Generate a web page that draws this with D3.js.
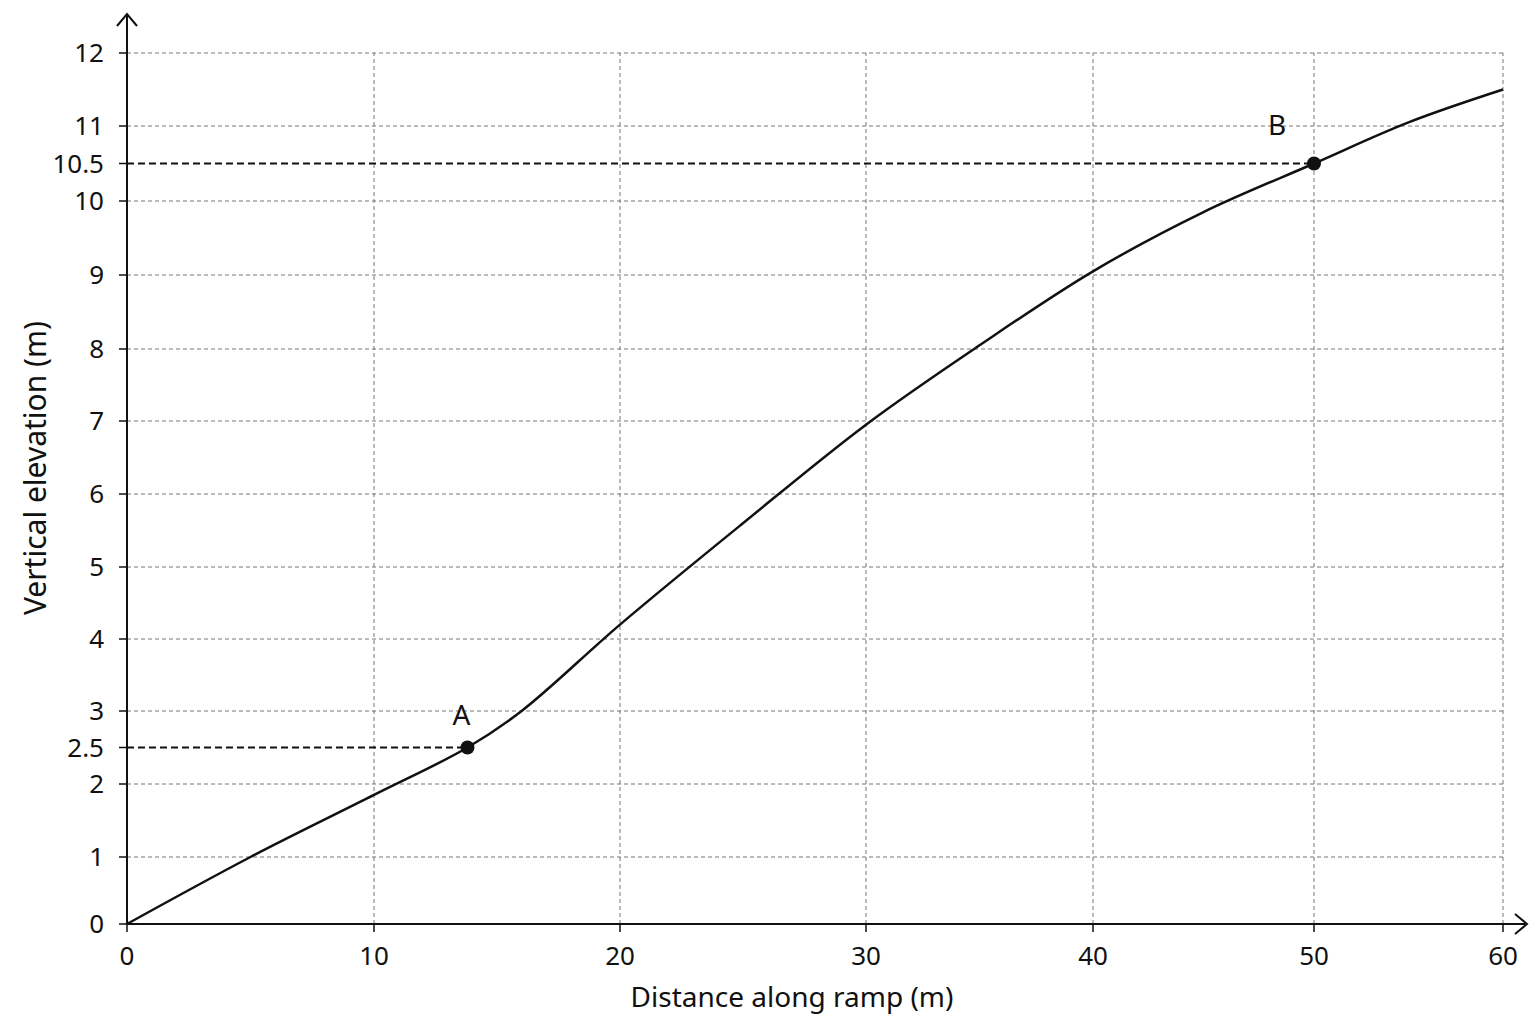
<!DOCTYPE html>
<html><head><meta charset="utf-8">
<script src="https://cdn.jsdelivr.net/npm/d3@7"></script>
<style>body{margin:0;background:#fff}text{font-family:"Noto Sans",sans-serif;fill:#111}</style>
</head><body><svg id="c" width="1536" height="1024"></svg>
<script>
const xTicks=[0,10,20,30,40,50,60];
const yTicks=[0,1,2,2.5,3,4,5,6,7,8,9,10,10.5,11,12];
const curveX=[0,5,10,13.8,16,20,25,30,35,40,45,50,55,60];
const curveY=[0,1.0,1.85,2.5,3.0,4.2,5.6,6.95,8.05,9.05,9.85,10.5,11.05,11.5];
const pointsX=[13.8,50], pointsY=[2.5,10.5], pointLabels=["A","B"];
const xLabel="Distance along ramp (m)", yLabel="Vertical elevation (m)";

const svg=d3.select("#c");
const x=d3.scaleLinear().domain(xTicks).range([127,374,620,866,1093,1314,1503]);
const y=d3.scaleLinear().domain([0,1,2,3,4,5,6,7,8,9,10,11,12]).range([924,857,784,711,639,567,494,421,349,275,201,126,53]);
const gridY=yTicks.filter(v=>v!==0&&v!==2.5&&v!==10.5);
svg.selectAll(".gy").data(gridY).join("line").attr("x1",x(0)).attr("x2",x(60)).attr("y1",d=>y(d)).attr("y2",d=>y(d)).attr("stroke","#777").attr("stroke-width",1).attr("stroke-dasharray","4,3");
svg.selectAll(".gx").data(xTicks.slice(1)).join("line").attr("x1",d=>x(d)).attr("x2",d=>x(d)).attr("y1",y(0)).attr("y2",y(12)).attr("stroke","#777").attr("stroke-width",1).attr("stroke-dasharray","4,3");
svg.append("line").attr("x1",x(0)).attr("x2",1525).attr("y1",y(0)).attr("y2",y(0)).attr("stroke","#111").attr("stroke-width",2);
svg.append("line").attr("x1",x(0)).attr("x2",x(0)).attr("y1",y(0)).attr("y2",14).attr("stroke","#111").attr("stroke-width",2);
svg.append("path").attr("d",`M1515,914L1527,924L1515,934`).attr("fill","none").attr("stroke","#111").attr("stroke-width",2);
svg.append("path").attr("d",`M117,26L127,14L137,26`).attr("fill","none").attr("stroke","#111").attr("stroke-width",2);
svg.selectAll(".ty").data(yTicks).join("line").attr("x1",x(0)-8).attr("x2",x(0)).attr("y1",d=>y(d)).attr("y2",d=>y(d)).attr("stroke","#111").attr("stroke-width",1.5);
svg.selectAll(".tx").data(xTicks).join("line").attr("x1",d=>x(d)).attr("x2",d=>x(d)).attr("y1",y(0)).attr("y2",y(0)+8).attr("stroke","#111").attr("stroke-width",1.5);
svg.selectAll(".ly").data(yTicks).join("text").attr("x",104).attr("y",d=>y(d)).attr("dy","0.35em").attr("text-anchor","end").attr("font-size",26).text(d=>d);
svg.selectAll(".lx").data(xTicks).join("text").attr("x",d=>x(d)).attr("y",965).attr("text-anchor","middle").attr("font-size",26).text(d=>d);
svg.append("text").attr("x",792).attr("y",1007).attr("text-anchor","middle").attr("font-size",28).text(xLabel);
svg.append("text").attr("transform","translate(46,468) rotate(-90)").attr("text-anchor","middle").attr("font-size",30).text(yLabel);
pointsX.forEach((px,i)=>{
 svg.append("line").attr("x1",x(0)).attr("x2",x(px)).attr("y1",y(pointsY[i])).attr("y2",y(pointsY[i])).attr("stroke","#111").attr("stroke-width",1.8).attr("stroke-dasharray","7,4");
});
const line=d3.line().x((d,i)=>x(curveX[i])).y((d,i)=>y(curveY[i])).curve(d3.curveCatmullRom.alpha(0.5));
svg.append("path").attr("d",line(curveX)).attr("fill","none").attr("stroke","#111").attr("stroke-width",2.5);
pointsX.forEach((px,i)=>{
 svg.append("circle").attr("cx",x(px)).attr("cy",y(pointsY[i])).attr("r",7).attr("fill","#111");
 svg.append("text").attr("x",x(px)-(i?37:6)).attr("y",y(pointsY[i])-(i?29:23)).attr("text-anchor","middle").attr("font-size",28).text(pointLabels[i]);
});
</script></body></html>
